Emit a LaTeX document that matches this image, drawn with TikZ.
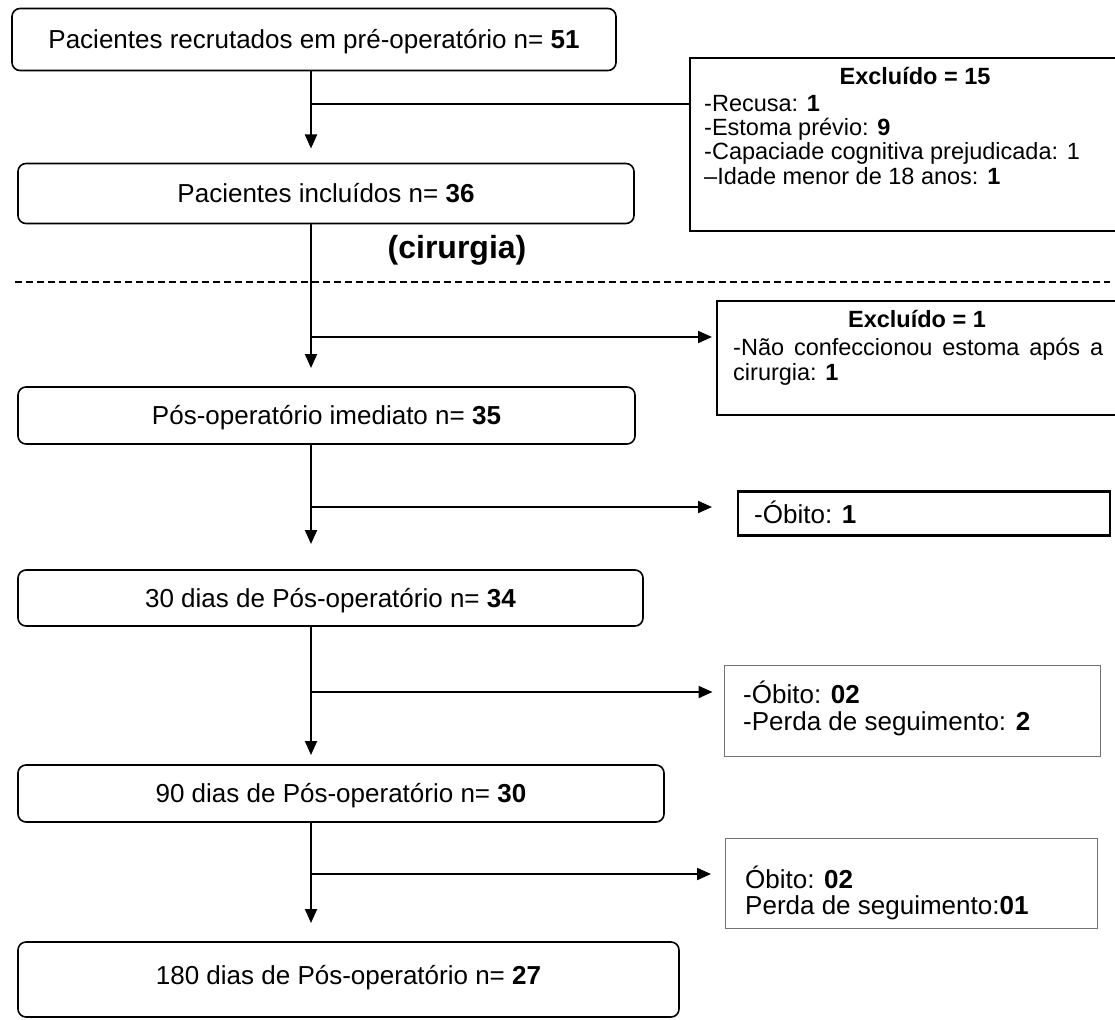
\documentclass[tikz,border=0pt]{standalone}
\usepackage{fontspec}
\setmainfont{Liberation Sans}
\usetikzlibrary{arrows.meta}
\newcommand\szmain{\fontsize{26}{30}\selectfont}
\newcommand\szex{\fontsize{23.5}{26}\selectfont}
\newcommand\szcir{\fontsize{32}{36}\selectfont\bfseries}
\begin{document}
\begin{tikzpicture}[x=1pt,y=-1pt,
  mainbox/.style={draw, line width=1.6pt, rounded corners=8pt, inner sep=0pt, outer sep=0pt, font=\szmain, text height=18.7pt, text depth=0pt},
  exbox/.style={draw, line width=2.4pt, inner sep=0pt, outer sep=0pt},
  graybox/.style={draw=black!55, line width=1pt, inner sep=0pt, outer sep=0pt},
  extext/.style={anchor=base west, inner sep=0pt, font=\szex},
  gtext/.style={anchor=base west, inner sep=0pt, font=\szmain},
  conn/.style={line width=2pt},
  arr/.style={conn, -{Triangle[length=14pt,width=12pt]}}
]
\useasboundingbox (0,0) rectangle (1115,1019);
\fill[white] (0,0) rectangle (1115,1019);

% main boxes
\node[mainbox, minimum width=604pt, minimum height=62pt] (b1) at (314,39.5) {Pacientes recrutados em pré-operatório n= \textbf{51}};
\node[mainbox, minimum width=616pt, minimum height=60pt] (b2) at (326,193.5) {Pacientes incluídos n= \textbf{36}};
\node[mainbox, minimum width=617pt, minimum height=57pt] (b3) at (326.5,415.5) {Pós-operatório imediato n= \textbf{35}};
\node[mainbox, minimum width=625pt, minimum height=56pt] (b4) at (330.5,598) {30 dias de Pós-operatório n= \textbf{34}};
\node[mainbox, minimum width=646pt, minimum height=57pt] (b5) at (341,793.5) {90 dias de Pós-operatório n= \textbf{30}};
\node[mainbox, minimum width=661pt, minimum height=75pt] (b6) at (348.5,979.5) {};
\node[inner sep=0pt, font=\szmain, text height=18.7pt, text depth=0pt] (b6t) at (348.5,975) {180 dias de Pós-operatório n= \textbf{27}};

% side boxes
\node[exbox, minimum width=450pt, minimum height=173pt] (ex1) at (915,144.5) {};
\node[exbox, minimum width=402pt, minimum height=114pt] (ex2) at (918,358) {};
\node[exbox, minimum width=372pt, minimum height=44pt] (ob1) at (924,513.5) {};
\node[graybox, minimum width=376pt, minimum height=91pt] (g5) at (912.5,711) {};
\node[graybox, minimum width=372pt, minimum height=90pt] (g7) at (911,883) {};

% side texts
\node[anchor=base, inner sep=0pt, font=\szex\bfseries] (ex1t) at (915,85) {Excluído = 15};
\node[extext] (ex1a) at (704,112) {-Recusa: \textbf{1}};
\node[extext] (ex1b) at (704,136) {-Estoma prévio: \textbf{9}};
\node[extext] (ex1c) at (704,160) {-Capaciade cognitiva prejudicada: 1};
\node[extext] (ex1d) at (704,184) {–Idade menor de 18 anos: \textbf{1}};

\node[anchor=base, inner sep=0pt, font=\szex\bfseries] (ex2t) at (917,327) {Excluído = 1};
\node[extext] (ex2a) at (733,355) {\makebox[370pt][s]{-Não confeccionou estoma após a}};
\node[extext] (ex2b) at (733,380) {cirurgia: \textbf{1}};

\node[gtext] (ob1t) at (754,523) {-Óbito: \textbf{1}};
\node[gtext] (g5a) at (743,703) {-Óbito: \textbf{02}};
\node[gtext] (g5b) at (743,730) {-Perda de seguimento: \textbf{2}};
\node[gtext] (g7a) at (745,888) {Óbito: \textbf{02}};
\node[gtext] (g7b) at (745,914) {Perda de seguimento:\textbf{01}};

% cirurgia + dashed line
\node[inner sep=0pt, font=\szcir] (cir) at (457,250) {(cirurgia)};
\coordinate (dl) at (15,282);
\coordinate (dr) at (1110,282);
\draw[line width=1.5pt, dash pattern=on 7pt off 4pt] (dl) -- (dr);

% trunk
\coordinate (vx) at (311,0);
\draw[arr, shorten >=15pt] (b1.south -| vx) -- (b2.north -| vx);
\draw[arr, shorten >=19pt] (b2.south -| vx) -- (b3.north -| vx);
\draw[arr, shorten >=26pt] (b3.south -| vx) -- (b4.north -| vx);
\draw[arr, shorten >=10pt] (b4.south -| vx) -- (b5.north -| vx);
\draw[arr, shorten >=19pt] (b5.south -| vx) -- (b6.north -| vx);

% branches
\coordinate (j1) at (311,104);
\coordinate (j2) at (311,337);
\coordinate (j3) at (311,507);
\coordinate (j4) at (311,692);
\coordinate (j5) at (311,874);
\draw[conn] (j1) -- (j1 -| ex1.west);
\draw[arr, shorten >=5pt] (j2) -- (j2 -| ex2.west);
\draw[arr, shorten >=26pt] (j3) -- (j3 -| ob1.west);
\draw[arr, shorten >=12pt] (j4) -- (j4 -| g5.west);
\draw[arr, shorten >=14pt] (j5) -- (j5 -| g7.west);
\end{tikzpicture}
\end{document}
